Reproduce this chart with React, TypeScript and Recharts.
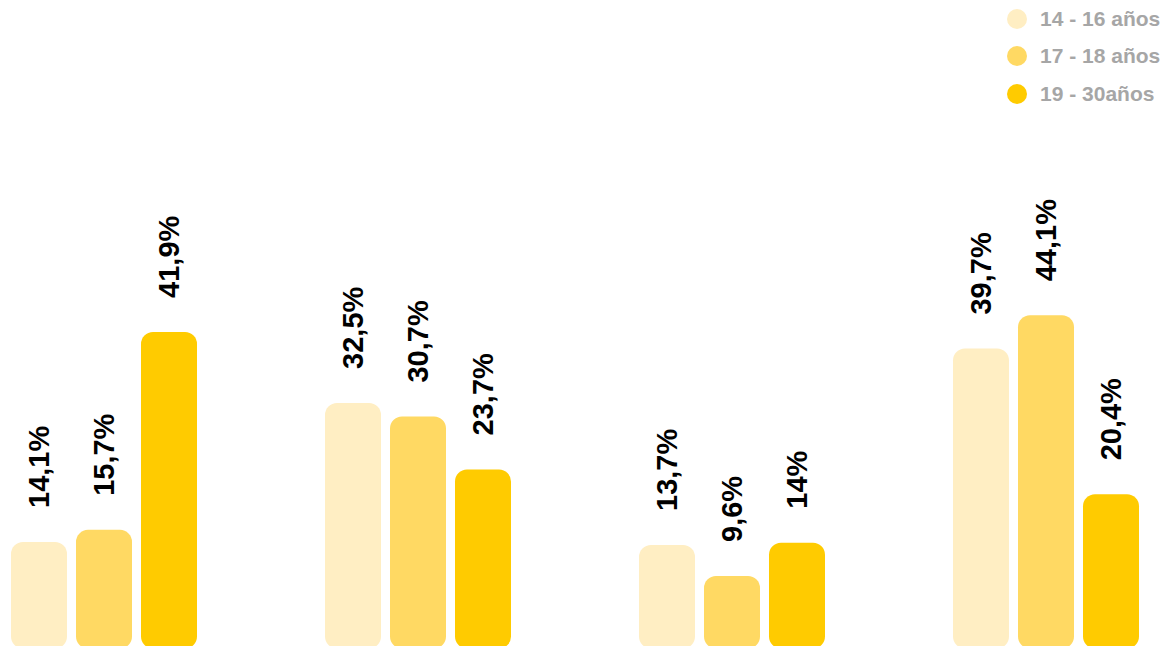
import { BarChart, Bar, XAxis, YAxis, LabelList } from "recharts";

const categories = ["Grupo 1", "Grupo 2", "Grupo 3", "Grupo 4"];
const edad14a16 = [14.1, 32.5, 13.7, 39.7];
const edad17a18 = [15.7, 30.7, 9.6, 44.1];
const edad19a30 = [41.9, 23.7, 14, 20.4];

const series = [
  { key: "a", name: "14 - 16 años", color: "#FFEEC3" },
  { key: "b", name: "17 - 18 años", color: "#FFD963" },
  { key: "c", name: "19 - 30años", color: "#FFCB00" },
];

const data = categories.map((c, i) => ({
  grupo: c,
  a: edad14a16[i],
  b: edad17a18[i],
  c: edad19a30[i],
}));

const fmt = (v: number) => String(v).replace(".", ",") + "%";

function RotLabel(props: any) {
  const { x, y, width, value } = props;
  const cx = x + width / 2;
  const ly = y - 34;
  return (
    <text
      x={cx}
      y={ly}
      transform={`rotate(-90, ${cx}, ${ly})`}
      textAnchor="start"
      dominantBaseline="central"
      fill="#000"
      fontSize={29}
      fontWeight="bold"
      fontFamily="'Liberation Sans', Arial, sans-serif"
    >
      {fmt(value)}
    </text>
  );
}

function LegendBox() {
  return (
    <div
      style={{
        position: "absolute",
        left: 1007,
        top: 0,
        fontFamily: "'Liberation Sans', Arial, sans-serif",
      }}
    >
      {series.map((s) => (
        <div
          key={s.key}
          style={{ display: "flex", alignItems: "center", height: 37.5 }}
        >
          <span
            style={{
              width: 20,
              height: 20,
              borderRadius: 10,
              background: s.color,
              display: "inline-block",
              marginRight: 13,
            }}
          />
          <span style={{ color: "#A6A6A6", fontSize: 21, fontWeight: "bold" }}>
            {s.name}
          </span>
        </div>
      ))}
    </div>
  );
}

export default function App() {
  return (
    <div
      style={{
        position: "fixed",
        left: 0,
        top: 0,
        width: 1170,
        height: 646,
        overflow: "hidden",
        background: "#fff",
      }}
    >
      <div style={{ position: "absolute", left: -53, top: 0 }}>
        <BarChart
          width={1256}
          height={650}
          data={data}
          margin={{ top: 44, right: 0, left: 0, bottom: 1.5 }}
          barSize={56}
          barGap={9}
        >
          <XAxis dataKey="grupo" hide />
          <YAxis domain={[0, 80]} hide />
          {series.map((s) => (
            <Bar
              key={s.key}
              dataKey={s.key}
              name={s.name}
              fill={s.color}
              radius={[12, 12, 12, 12]}
              isAnimationActive={false}
            >
              <LabelList dataKey={s.key} content={<RotLabel />} />
            </Bar>
          ))}
        </BarChart>
      </div>
      <LegendBox />
    </div>
  );
}
